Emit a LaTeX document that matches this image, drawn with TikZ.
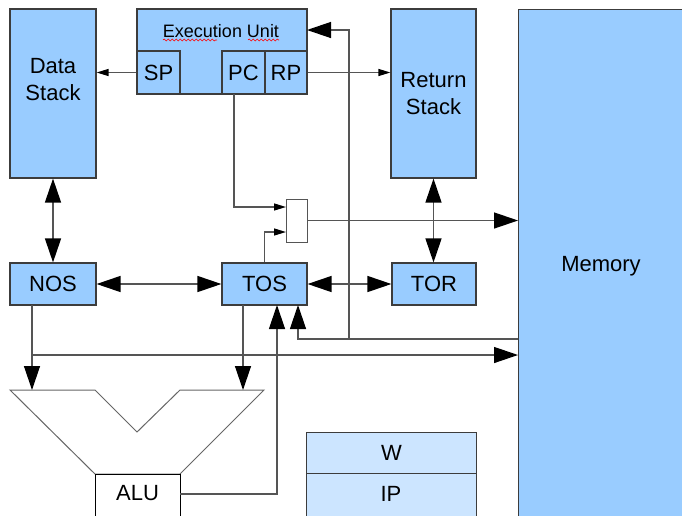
\documentclass[tikz,border=0pt]{standalone}
\usepackage{fontspec}
\setmainfont{Liberation Sans}
\usetikzlibrary{arrows.meta,decorations.pathmorphing}
\definecolor{boxblue}{HTML}{99CCFF}
\definecolor{lightblue}{HTML}{CCE5FF}
\definecolor{edgecol}{HTML}{3C3C3C}
\definecolor{wire}{HTML}{555555}
\begin{document}
\begin{tikzpicture}[x=1pt,y=-1pt,
  blk/.style={draw=edgecol, line width=1.2pt, fill=boxblue, inner sep=0pt, font=\fontsize{22}{27}\selectfont},
  lbl/.style={inner sep=0pt, font=\fontsize{22}{27}\selectfont},
  wirel/.style={draw=wire, line width=1.3pt},
  big/.style={wirel, -{Triangle[length=24pt,width=16pt,color=black]}},
  bigboth/.style={wirel, {Triangle[length=24pt,width=16pt,color=black]}-{Triangle[length=24pt,width=16pt,color=black]}},
  small/.style={wirel, -{Triangle[length=12pt,width=7pt,color=black]}},
]
\useasboundingbox (0,0) rectangle (682,515);
\clip (0,0) rectangle (682,515);
\fill[white] (0,0) rectangle (682,515);

% Memory
\node[blk, minimum width=182pt, minimum height=530pt, anchor=north west] (mem) at (518,9) {};
\node[lbl, anchor=base] at (601,271) {Memory};

% Data stack
\node[blk, minimum width=86pt, minimum height=169pt] (ds) at (53,93.5) {};
\node[lbl, align=center] at (53,80) {Data\\Stack};

% Return stack
\node[blk, minimum width=85pt, minimum height=169pt, align=center] (rs) at (433.5,93.5) {Return\\Stack};

% Execution unit
\node[blk, minimum width=170pt, minimum height=85pt] (eu) at (222,51.5) {};
\node[inner sep=0pt, font=\fontsize{18}{20}\selectfont] (eut) at (221,31) {Execution Unit};
\draw[red, line width=0.6pt, decorate, decoration={snake, amplitude=1pt, segment length=4pt}] (163,40) -- (217,40);
\draw[red, line width=0.6pt, decorate, decoration={snake, amplitude=1pt, segment length=4pt}] (248,40) -- (279,40);
\node[blk, minimum width=43pt, minimum height=43pt] (sp) at (158.5,72.5) {SP};
\node[blk, minimum width=43pt, minimum height=43pt] (pc) at (243.5,72.5) {PC};
\node[blk, minimum width=42pt, minimum height=43pt] (rp) at (286,72.5) {RP};

% Mux
\node[draw=wire, fill=white, line width=1pt, minimum width=21pt, minimum height=43pt, inner sep=0pt] (mux) at (296.5,220.5) {};

% Registers
\node[blk, minimum width=86pt, minimum height=42pt] (nos) at (53,284) {NOS};
\node[blk, minimum width=85pt, minimum height=42pt] (tos) at (264.5,284) {TOS};
\node[blk, minimum width=84pt, minimum height=42pt] (tor) at (434,284) {TOR};

% ALU
\draw[draw=gray!80!black, line width=1pt, fill=white] (10,390) -- (95,390) -- (137,432) -- (180,390) -- (264,390) -- (180,474) -- (95,474) -- cycle;
\node[draw=black, line width=1pt, fill=white, minimum width=85pt, minimum height=56pt, anchor=north west, inner sep=0pt] (alu) at (95,474) {};
\node[lbl] at (137.5,493) {ALU};

% W / IP
\node[blk, fill=lightblue, minimum width=170pt, minimum height=41pt, anchor=north west] (w) at (306,432) {W};
\node[blk, fill=lightblue, minimum width=170pt, minimum height=60pt, anchor=north west] (ip) at (306,473) {};
\node[lbl] at (391,494) {IP};

% Coordinates
\coordinate (pcout) at (234,94);
\coordinate (muxA) at (286,207);
\coordinate (muxB) at (286,232);
\coordinate (nosout) at (32,305);
\coordinate (aluA) at (32,390);
\coordinate (tosout) at (243,305);
\coordinate (aluB) at (243,390);
\coordinate (j1) at (32,355);
\coordinate (aluout) at (180,494);
\coordinate (tosin1) at (277,305);
\coordinate (tosin2) at (298,305);
\coordinate (j2) at (349,339);
\coordinate (euin) at (307,30);

% Connectors
\draw[small] (sp.west) -- (sp.west -| ds.east);
\draw[small] (rp.east) -- (rp.east -| rs.west);
\draw[small] (pcout) |- (muxA);
\draw[small] (tos.north) |- (muxB);
\draw[big] (mux.east) -- (mux.east -| mem.west);
\draw[bigboth] (rs.south) -- (rs.south |- tor.north);
\draw[bigboth] (ds.south) -- (nos.north);
\draw[bigboth] (nos.east) -- (tos.west);
\draw[bigboth] (tos.east) -- (tor.west);
\draw[big] (nosout) -- (aluA);
\draw[big] (j1) -- (j1 -| mem.west);
\draw[big] (tosout) -- (aluB);
\draw[big] (aluout) -| (tosin1);
\draw[big] (j2 -| mem.west) -| (tosin2);
\draw[big] (j2) |- (euin);
\end{tikzpicture}
\end{document}
